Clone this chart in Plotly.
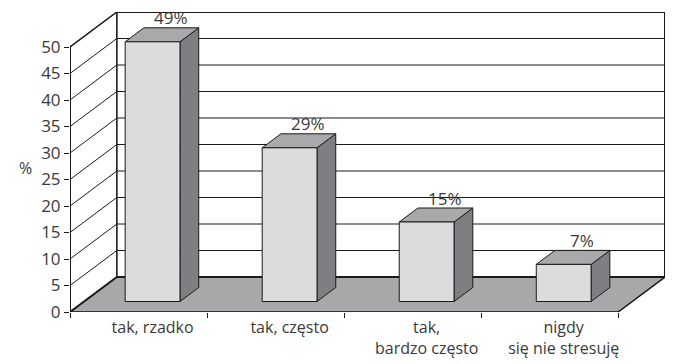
import plotly.graph_objects as go

categories = ["tak, rzadko", "tak, często", "tak,<br>bardzo często", "nigdy<br>się nie stresuję"]
values = [49, 29, 15, 7]
labels = ["49%", "29%", "15%", "7%"]
y_ticks = [0, 5, 10, 15, 20, 25, 30, 35, 40, 45, 50]

# oblique projection (depth offsets in data units)
N = len(categories)
YMAX = 50
DX = 47 / 137.5
DY = 35 / 5.3
BAR_X0, BAR_X1 = 0.3, 0.7
BAR_D0, BAR_D1 = 0.3, 0.7

FONT = "Open Sans"
INK = "#1a1a1a"
TXT = "#3a3a3a"


def P(x, y, d):
    return x + d * DX, y + d * DY


def poly(pts, fill, line_color=INK, width=1):
    xs = [p[0] for p in pts] + [pts[0][0]]
    ys = [p[1] for p in pts] + [pts[0][1]]
    return go.Scatter(x=xs, y=ys, mode="lines", fill="toself", fillcolor=fill,
                      line=dict(color=line_color, width=width), hoverinfo="skip",
                      showlegend=False)


def seg(pts_list, width=1, color=INK):
    xs, ys = [], []
    for a, b in pts_list:
        xs += [a[0], b[0], None]
        ys += [a[1], b[1], None]
    return go.Scatter(x=xs, y=ys, mode="lines", line=dict(color=color, width=width),
                      hoverinfo="skip", showlegend=False)


fig = go.Figure()

# left wall (white) and floor (gray)
fig.add_trace(poly([P(0, 0, 0), P(0, 0, 1), P(0, YMAX, 1), P(0, YMAX, 0)], "white", width=0.5))
fig.add_trace(poly([P(0, 0, 0), P(N, 0, 0), P(N, 0, 1), P(0, 0, 1)], "#a8a8aa", width=0.5))

# gridlines on back wall and left wall
grid = []
for v in y_ticks[1:-1]:
    grid.append((P(0, v, 1), P(N, v, 1)))
    grid.append((P(0, v, 0), P(0, v, 1)))
fig.add_trace(seg(grid, width=1))

# frame edges
fig.add_trace(seg([
    (P(0, YMAX, 1), P(N, YMAX, 1)),
    (P(N, 0, 1), P(N, YMAX, 1)),
    (P(0, 0, 0), P(0, YMAX, 0)),
    (P(0, 0, 0), P(0, 0, 1)),
    (P(0, 0, 1), P(N, 0, 1)),
], width=2))
fig.add_trace(seg([
    (P(0, YMAX, 0), P(0, YMAX, 1)),
    (P(0, 0, 1), P(0, YMAX, 1)),
    (P(0, 0, 0), P(N, 0, 0)),
    (P(N, 0, 0), P(N, 0, 1)),
], width=1.5))

# bars
for i, v in enumerate(values):
    x0, x1 = i + BAR_X0, i + BAR_X1
    fig.add_trace(poly([P(x1, 0, BAR_D0), P(x1, 0, BAR_D1), P(x1, v, BAR_D1), P(x1, v, BAR_D0)], "#7f7f83"))
    fig.add_trace(poly([P(x0, v, BAR_D0), P(x1, v, BAR_D0), P(x1, v, BAR_D1), P(x0, v, BAR_D1)], "#a9a9ac"))
    fig.add_trace(poly([P(x0, 0, BAR_D0), P(x1, 0, BAR_D0), P(x1, v, BAR_D0), P(x0, v, BAR_D0)], "#dcdcde"))
    lx, ly = P((x0 + x1) / 2, v, BAR_D1)
    fig.add_annotation(x=lx, y=ly, text=labels[i], showarrow=False, yanchor="middle",
                       xanchor="center", yshift=10,
                       font=dict(family=FONT, size=17, color=TXT))

tick_x = [i + 0.5 + BAR_D0 * DX for i in range(N)]

fig.add_annotation(x=-45 / 595, y=(312 - 168) / 300, xref="paper", yref="paper",
                   xanchor="center", yanchor="middle",
                   text="%", showarrow=False, font=dict(family=FONT, size=16, color=TXT))

fig.update_layout(
    width=673, height=364,
    margin=dict(l=70, r=8, t=12, b=52, autoexpand=False),
    paper_bgcolor="white", plot_bgcolor="white",
    showlegend=False,
    xaxis=dict(range=[0, N + DX], tickvals=tick_x, ticktext=categories, ticks="",
               showgrid=False, zeroline=False, showline=False, automargin=False,
               ticklabelstandoff=4,
               tickfont=dict(family=FONT, size=16, color=TXT),
               minor=dict(tickvals=list(range(N + 1)), ticks="outside", ticklen=5,
                          tickcolor=INK, tickwidth=1, showgrid=False)),
    yaxis=dict(range=[0, YMAX + DY], tickvals=y_ticks, ticks="outside", ticklen=5,
               tickcolor=INK, showgrid=False, zeroline=False, showline=False,
               automargin=False,
               tickfont=dict(family=FONT, size=17, color=TXT)),
)

fig.write_html("out.html")
